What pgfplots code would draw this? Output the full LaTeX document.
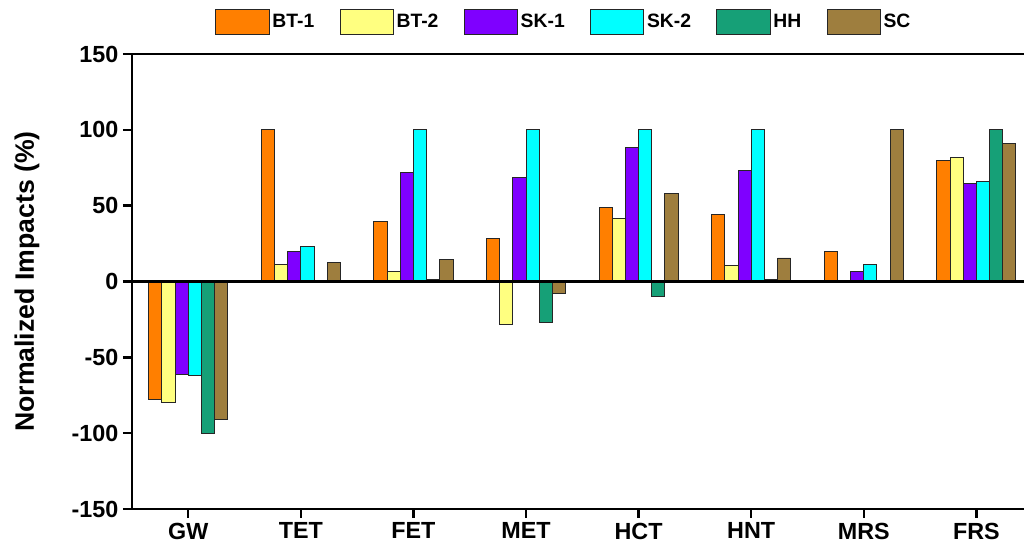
\documentclass[border=0pt]{standalone}
\usepackage{fontspec}
\setmainfont{Liberation Sans}
\usepackage{pgfplots}
\pgfplotsset{compat=1.18}
\definecolor{cBTa}{HTML}{FF7F00}
\definecolor{cBTb}{HTML}{FFFF80}
\definecolor{cSKa}{HTML}{7F00FF}
\definecolor{cSKb}{HTML}{00FFFF}
\definecolor{cHH}{HTML}{16A077}
\definecolor{cSC}{HTML}{9E7E3E}
\begin{document}
\begin{tikzpicture}
\useasboundingbox (-99pt,-29.25pt) rectangle (669pt,381.75pt);
\begin{axis}[
  at={(0,0)}, anchor=south west,
  scale only axis,
  width=671.25pt, height=341.25pt,
  xmin=-0.5, xmax=7.45,
  ymin=-150, ymax=150,
  ytick={-150,-100,-50,0,50,100,150},
  xtick={0,1,2,3,4,5,6,7},
  xticklabels={GW,TET,FET,MET,HCT,HNT,MRS,FRS},
  xtick pos=bottom, ytick pos=left,
  tick align=outside,
  major tick length=6.75pt,
  tick style={line width=1.8pt, black},
  axis line style={line width=2.2pt},
  /pgf/number format/assume math mode=true,
  tick label style={font=\fontsize{17.5}{20}\selectfont\bfseries},
  ylabel={Normalized Impacts (\%)},
  every axis y label/.style={at={(axis description cs:0,0.5)}, xshift=-78.75pt, rotate=90, anchor=center, font=\fontsize{20}{23}\selectfont\bfseries},
  ybar=0pt, bar width=9.88pt,
  every axis plot/.append style={draw=black!85, line width=0.7pt},
  legend columns=6,
  legend style={draw=none, fill=none, at={(axis description cs:0.483,1)}, anchor=center, yshift=24pt,
    font=\fontsize{14.5}{17}\selectfont\bfseries,
    /tikz/every even column/.append style={column sep=17pt}},
  legend image code/.code={\draw[#1] (0pt,-9.5pt) rectangle (40pt,9.5pt);},
]
\addplot[fill=cBTa] coordinates {(0,-78) (1,100) (2,39.5) (3,28.5) (4,48.7) (5,44.5) (6,20) (7,79.7)};
\addplot[fill=cBTb] coordinates {(0,-79.5) (1,11.3) (2,6.5) (3,-28.2) (4,41.6) (5,10.7) (6,0) (7,81.6)};
\addplot[fill=cSKa] coordinates {(0,-61) (1,20) (2,72) (3,68.4) (4,88.2) (5,73.5) (6,6.5) (7,64.7)};
\addplot[fill=cSKb] coordinates {(0,-62) (1,23) (2,100) (3,100) (4,100) (5,100) (6,11.3) (7,65.8)};
\addplot[fill=cHH] coordinates {(0,-100) (1,0) (2,1.5) (3,-26.7) (4,-9.6) (5,1.5) (6,0) (7,100)};
\addplot[fill=cSC] coordinates {(0,-91) (1,12.6) (2,14.2) (3,-8) (4,58.3) (5,15.5) (6,100) (7,91.3)};
\legend{BT-1,BT-2,SK-1,SK-2,HH,SC}
\draw[line width=2.2pt] (axis cs:-0.5,0) -- (axis cs:7.45,0);
\end{axis}
\end{tikzpicture}
\end{document}
